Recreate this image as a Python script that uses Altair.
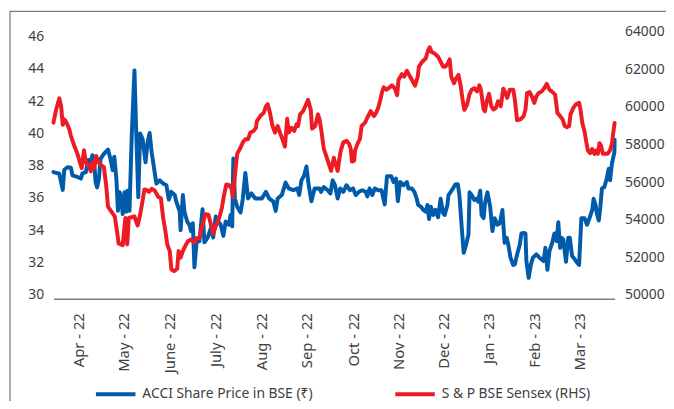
import altair as alt
import pandas as pd

# ---------------- data ----------------
acci_day = [0, 2.6, 4.1, 4.8, 6.2, 7.7, 8.4, 10.6, 12.1, 12.8, 14.3, 15.4, 16.0, 17.2, 17.9, 18.6, 19.3, 20.1, 20.8, 22.3,
            24.1, 25.2, 26.2, 26.9, 27.8, 28.5, 29.3, 30.0, 30.6, 31.4, 32.2, 32.7, 33.6, 34.6, 35.8, 36.5, 37.5, 38.3, 39.4, 40.7,
            41.6, 42.5, 43.4, 44.5, 45.5, 47.0, 48.5, 49.9, 51.0, 52.1, 53.6, 54.3, 55.8, 56.2, 57.2, 57.9, 59.1, 60.1, 60.8, 61.6,
            62.3, 63.3, 64.5, 65.9, 66.7, 68.1, 69.6, 70.6, 71.7, 72.9, 73.9, 75.1, 76.1, 77.6, 78.3, 79.0, 79.5, 80.2, 81.2, 82.7,
            83.7, 84.8, 86.0, 87.5, 89.2, 92.1, 93.9, 95.3, 97.2, 98.2, 99.1, 100.9, 102.6, 104.0, 106.0, 107.8, 108.6, 109.6, 110.8, 111.8,
            112.8, 114.0, 115.4, 117.6, 118.3, 119.5, 121.2, 122.4, 123.4, 124.4, 125.6, 126.7, 128.1, 129.5, 131.0, 132.4, 133.6, 135.0, 136.5, 138.0,
            138.7, 139.7, 140.9, 142.0, 143.5, 145.0, 146.4, 147.4, 149.3, 150.3, 151.4, 152.2, 153.2, 154.7, 156.2, 156.9, 158.4, 159.5, 160.5, 161.2,
            162.4, 163.4, 164.5, 165.3, 166.0, 166.8, 167.8, 168.8, 170.0, 171.1, 172.2, 172.9, 174.1, 174.6, 176.1, 177.6, 178.7, 179.4, 180.4, 181.3,
            182.4, 183.4, 183.9, 184.8, 186.0, 187.2, 187.7, 188.6, 189.2, 190.1, 190.7, 191.8, 193.0, 194.0, 195.0, 196.2, 197.3, 198.4, 199.4, 200.3,
            201.0, 202.0, 203.2, 203.9, 204.9, 206.1, 206.8, 207.8, 208.6, 209.0, 210.0, 211.0, 211.9, 213.4, 214.8, 216.6, 217.4, 218.3, 219.2, 220.4,
            221.4, 222.4, 223.1, 223.9, 224.6, 225.3, 226.5, 227.5, 228.2, 229.2, 230.4, 231.4, 232.3, 233.3, 234.7, 235.8, 236.9, 238.1, 238.7, 239.6,
            240.1, 241.0, 241.7, 242.4, 243.5, 244.5, 245.4, 246.0, 246.8, 247.9, 248.0]
acci_price = [37.85, 37.75, 36.75, 38.0, 38.15, 38.12, 37.65, 37.55, 37.45, 37.77, 37.85, 38.6, 38.26, 38.9, 38.77, 37.24, 36.9, 37.45, 38.67, 38.98,
              39.25, 38.67, 37.96, 38.8, 37.45, 35.45, 36.6, 36.22, 35.25, 36.6, 35.4, 36.7, 35.45, 40.1, 44.15, 40.71, 36.3, 40.25, 39.9, 38.46,
              39.69, 40.28, 39.08, 38.06, 37.14, 37.34, 37.14, 37.04, 36.15, 36.63, 36.43, 36.02, 35.4, 34.25, 36.43, 35.4, 34.79, 34.59, 34.2, 34.69,
              31.95, 33.57, 33.57, 35.55, 33.5, 33.78, 34.39, 33.8, 35.1, 34.79, 34.59, 33.9, 34.79, 34.59, 35.2, 34.49, 38.7, 36.22, 35.71, 35.35,
              36.22, 37.8, 36.22, 36.53, 36.22, 36.22, 36.63, 36.22, 36.02, 35.45, 36.22, 36.43, 37.2, 36.84, 36.73, 36.84, 36.43, 37.34, 37.65, 38.2,
              37.04, 36.05, 36.84, 36.84, 36.63, 36.93, 36.73, 36.53, 37.34, 37.04, 36.22, 36.84, 36.63, 37.04, 36.73, 36.84, 36.43, 36.63, 36.73, 36.63,
              36.35, 36.84, 36.43, 36.84, 36.73, 36.73, 35.85, 37.6, 37.6, 37.24, 37.45, 36.05, 37.24, 37.04, 37.24, 36.84, 36.84, 36.63, 36.22, 35.81,
              35.71, 35.51, 35.4, 35.81, 34.95, 35.71, 35.2, 35.51, 35.05, 36.2, 35.31, 35.2, 35.81, 36.43, 36.73, 37.08, 37.1, 36.43, 34.49, 32.85,
              33.37, 33.98, 36.6, 36.43, 36.12, 36.22, 36.02, 36.7, 35.2, 35.0, 35.92, 36.6, 35.71, 34.2, 35.0, 34.59, 34.69, 35.5, 33.47, 33.78,
              33.37, 32.55, 32.1, 32.14, 32.75, 33.37, 34.05, 34.08, 34.05, 32.34, 31.3, 32.14, 32.55, 32.75, 32.55, 32.34, 33.16, 31.8, 32.96, 33.47,
              34.05, 33.57, 34.75, 33.16, 33.78, 33.67, 32.3, 33.78, 33.78, 32.65, 32.45, 32.25, 32.1, 35.0, 35.0, 34.59, 35.0, 35.51, 36.2, 35.81,
              35.31, 34.85, 35.71, 36.84, 36.93, 37.45, 38.06, 37.34, 38.37, 39.08, 39.85]

sensex_day = [0, 1.2, 2.6, 3.4, 4.1, 4.8, 5.8, 7.0, 7.7, 9.2, 10.6, 11.7, 12.5, 13.5, 14.3, 15.4, 16.5, 17.2, 17.9, 18.9,
              19.8, 21.3, 22.3, 23.3, 24.1, 25.6, 27.1, 28.1, 28.8, 30.6, 31.8, 32.6, 33.3, 35.8, 36.8, 37.2, 38.3, 39.3, 40.2, 41.2,
              42.2, 43.4, 44.5, 45.1, 46.3, 47.5, 48.5, 49.5, 50.3, 51.4, 52.1, 53.3, 54.7, 55.3, 56.2, 57.2, 58.2, 59.4, 60.8, 62.3,
              63.4, 64.5, 65.9, 67.1, 68.5, 69.6, 70.6, 71.7, 73.2, 74.4, 75.4, 76.4, 77.6, 78.7, 79.3, 80.2, 81.2, 82.7, 83.7, 84.8,
              86.0, 87.0, 88.5, 89.5, 89.9, 91.4, 92.9, 93.9, 94.7, 95.7, 96.8, 97.9, 99.1, 100.1, 101.2, 102.3, 103.3, 104.0, 105.2, 106.4,
              107.4, 108.1, 109.0, 110.3, 111.3, 112.5, 113.7, 114.3, 115.7, 116.9, 117.6, 118.3, 119.5, 120.5, 122.7, 123.9, 125.6, 126.8, 128.1, 129.5,
              130.7, 131.4, 131.9, 132.9, 133.3, 134.3, 135.4, 136.2, 137.7, 138.7, 140.2, 141.6, 142.6, 143.5, 144.5, 145.3, 146.0, 147.0, 148.1, 149.6,
              150.8, 151.9, 152.5, 154.0, 155.0, 156.2, 157.2, 158.4, 159.8, 161.0, 161.5, 163.0, 164.5, 165.6, 166.3, 167.1, 168.5, 170.0, 171.1, 172.2,
              173.2, 174.3, 175.1, 175.8, 177.0, 178.0, 179.0, 179.9, 180.9, 181.6, 182.8, 183.8, 184.8, 186.0, 187.2, 188.2, 188.9, 190.1, 190.7, 191.5,
              192.5, 193.5, 194.4, 195.5, 196.5, 197.7, 198.8, 199.8, 200.5, 201.7, 203.2, 203.9, 204.9, 206.4, 207.8, 208.6, 209.3, 210.4, 211.4, 212.5,
              213.4, 214.4, 215.8, 216.9, 218.0, 219.2, 220.2, 221.7, 222.7, 223.9, 225.0, 226.0, 227.0, 227.9, 228.5, 229.7, 230.8, 232.3, 232.9, 233.7,
              234.8, 235.5, 236.2, 237.2, 238.1, 239.1, 239.8, 240.6, 241.3, 242.0, 242.8, 243.9, 244.9, 245.9, 246.8, 247.4, 248.0]
sensex_value = [59370, 60070, 60660, 60240, 59250, 59545, 59366, 59020, 58670, 58140, 57710, 57265, 56950, 57900, 57265, 57090, 56780, 57265, 56920, 57600,
                57265, 57090, 57000, 56040, 54900, 54640, 54380, 53590, 52950, 52850, 54300, 52900, 54300, 54380, 54030, 53900, 54470, 55160, 55820, 55780,
                55690, 55850, 55780, 55690, 55430, 55340, 54290, 53590, 52890, 52540, 51570, 51480, 51600, 52540, 52190, 52540, 52800, 53060, 53150, 52980,
                53240, 53240, 53940, 54500, 54470, 53940, 53450, 53850, 54290, 54820, 55520, 56080, 56040, 55870, 55400, 56570, 57710, 58050, 58320, 58490,
                58490, 58840, 58930, 59100, 59455, 59720, 59890, 60240, 60350, 59890, 59190, 58840, 59190, 58840, 58490, 58100, 59580, 58840, 59100, 58930,
                59280, 59190, 59810, 59980, 60240, 60580, 60070, 59050, 59190, 59810, 59545, 59020, 57970, 57620, 56800, 57500, 56800, 57800, 58320, 58400,
                58230, 57970, 57300, 57350, 57880, 58230, 58490, 59190, 59366, 59630, 59980, 59720, 59890, 60150, 60600, 61030, 61250, 61120, 61200, 61350,
                61200, 60830, 61650, 61950, 61820, 62130, 61910, 61650, 61330, 61820, 62345, 62610, 62780, 63220, 63380, 63130, 63040, 62870, 62610, 62345,
                62345, 62520, 62740, 61820, 61470, 61730, 61910, 61380, 60510, 60050, 60330, 60860, 61120, 61200, 61030, 61350, 61120, 60070, 59980, 60510,
                60900, 60240, 60070, 60150, 60510, 60240, 61170, 60940, 60680, 61120, 61120, 60600, 59500, 59545, 59720, 60070, 60940, 61000, 60770, 60420,
                60770, 60940, 61030, 61200, 61430, 61120, 61030, 60860, 59890, 59720, 59545, 59190, 59130, 59190, 59810, 60150, 60330, 60420, 60070, 59366,
                58840, 58320, 57880, 57750, 57970, 57710, 57880, 57710, 58280, 58140, 57710, 57710, 57710, 57880, 58230, 58840, 59350]

tick_days = [11, 31, 51.5, 71.5, 92, 112, 132.5, 152.5, 172.5, 192.5, 212.5, 232.5]
tick_labels = ["Apr - 22", "May - 22", "June - 22", "July - 22", "Aug - 22", "Sep - 22",
               "Oct - 22", "Nov - 22", "Dec - 22", "Jan - 23", "Feb - 23", "Mar - 23"]
left_ticks = [30, 32, 34, 36, 38, 40, 42, 44, 46]
right_ticks = [50000, 52000, 54000, 56000, 58000, 60000, 62000, 64000]

SERIES_A = "ACCI Share Price in BSE (\u20b9)"
SERIES_B = "S & P BSE Sensex (RHS)"
BLUE = "#005BAA"
RED = "#ED1C24"
FONT = "Noto Sans"
TXT = "#404040"

acci = pd.DataFrame({"day": acci_day, "value": acci_price, "series": SERIES_A,
                     "seq": list(range(len(acci_day)))})
sensex = pd.DataFrame({"day": sensex_day, "value": sensex_value, "series": SERIES_B,
                       "seq": list(range(len(sensex_day)))})

label_expr = ("[" + ",".join("'" + s + "'" for s in tick_labels) + "][indexof(["
              + ",".join(str(t) for t in tick_days) + "], datum.value)]")

x_enc = alt.X("day:Q", scale=alt.Scale(domain=[0, 248], nice=False, zero=False),
              axis=alt.Axis(values=tick_days, labelExpr=label_expr, labelAngle=-90,
                            ticks=False, grid=False, domain=True, domainColor="#7f7f7f",
                            domainWidth=1.5, labelFontSize=15, labelPadding=14,
                            labelFont=FONT, labelColor=TXT, title=None))

color_enc = alt.Color("series:N",
                      scale=alt.Scale(domain=[SERIES_A, SERIES_B], range=[BLUE, RED]),
                      legend=alt.Legend(title=None, orient="none", legendX=41, legendY=341,
                                        direction="horizontal", symbolType="stroke",
                                        symbolSize=1600, symbolStrokeWidth=4,
                                        labelFontSize=14, labelFont=FONT, labelColor=TXT,
                                        labelOffset=5, columnPadding=75, padding=0,
                                        labelLimit=400))

line_style = dict(strokeWidth=4, strokeJoin="round", strokeCap="round")

acci_line = alt.Chart(acci).mark_line(**line_style).encode(
    x=x_enc,
    y=alt.Y("value:Q", scale=alt.Scale(domain=[30, 46.31], nice=False, zero=False),
            axis=alt.Axis(values=left_ticks, orient="left", ticks=False, domain=False,
                          grid=False, labelPadding=10, labelFontSize=14, labelFont=FONT,
                          labelColor=TXT, labelBaseline="alphabetic", title=None)),
    color=color_enc,
    order="seq:Q",
)

sensex_line = alt.Chart(sensex).mark_line(**line_style).encode(
    x=x_enc,
    y=alt.Y("value:Q", scale=alt.Scale(domain=[50000, 64000], nice=False, zero=False),
            axis=alt.Axis(values=right_ticks, orient="right", ticks=False, domain=False,
                          grid=False, labelPadding=10, labelFontSize=14, labelFont=FONT,
                          labelColor=TXT, labelBaseline="alphabetic", title=None,
                          format="d")),
    color=color_enc,
    order="seq:Q",
)

frame_df = pd.DataFrame({"k": [0]})
frame_left = alt.Chart(frame_df).mark_rule(color="#595959", strokeWidth=1).encode(
    x=alt.value(-44), y=alt.value(-24.5), y2=alt.value(400))
frame_top = alt.Chart(frame_df).mark_rule(color="#595959", strokeWidth=1).encode(
    x=alt.value(-44), x2=alt.value(700), y=alt.value(-24.5))

chart = alt.layer(frame_left, frame_top, acci_line, sensex_line).resolve_scale(
    y="independent"
).properties(
    width=568, height=266.5,
    autosize=alt.AutoSizeParams(type="none"),
    padding={"left": 46, "top": 25.5, "right": 52, "bottom": 101},
).configure_view(stroke=None)

chart.save("out.html", embed_options={"renderer": "svg", "actions": False})
